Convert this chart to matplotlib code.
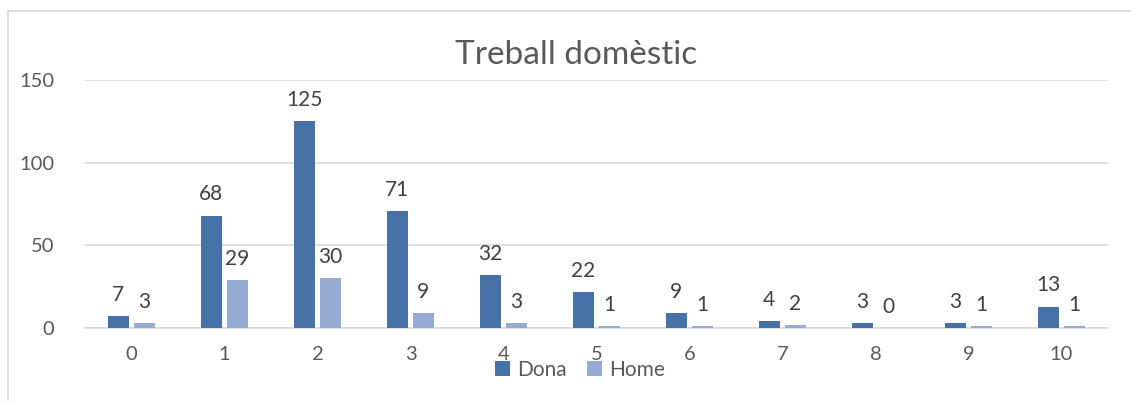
import numpy as np
import matplotlib
matplotlib.use("Agg")
import matplotlib.pyplot as plt
from matplotlib.patches import Rectangle

# Дані
categories = ["0", "1", "2", "3", "4", "5", "6", "7", "8", "9", "10"]
dona = [7, 68, 125, 71, 32, 22, 9, 4, 3, 3, 13]
home = [3, 29, 30, 9, 3, 1, 1, 2, 0, 1, 1]

col_dona = "#4672A8"
col_home = "#95ABD2"
txt = "#595959"

plt.rcParams["font.family"] = ["Lato", "DejaVu Sans"]

fig = plt.figure(figsize=(11.31, 4.01), dpi=100)
ax = fig.add_axes([85 / 1131, 1 - 328 / 401, 1023 / 1131, 248 / 401])

x = np.arange(len(categories))
w = 0.226
b1 = ax.bar(x - 0.145, dona, w, color=col_dona, zorder=3)
b2 = ax.bar(x + 0.135, home, w, color=col_home, zorder=3)

for bars, vals in ((b1, dona), (b2, home)):
    for r, v in zip(bars, vals):
        ax.annotate(str(v), (r.get_x() + r.get_width() / 2, v), xytext=(0, 8),
                    textcoords="offset points", ha="center", va="bottom",
                    fontsize=15, color="#404040")

ax.set_xlim(-0.5, 10.5)
ax.set_ylim(0, 150)
ax.set_yticks([0, 50, 100, 150])
ax.set_xticks(x)
ax.set_xticklabels(categories)
ax.tick_params(length=0, labelsize=14.5, labelcolor=txt)
ax.tick_params(axis="x", pad=13)
ax.tick_params(axis="y", pad=22)
ax.grid(axis="y", color="#d9d9d9", linewidth=1.2, zorder=0)
for s in ("top", "right", "left"):
    ax.spines[s].set_visible(False)
ax.spines["bottom"].set_color("#d9d9d9")
ax.spines["bottom"].set_linewidth(1.2)

fig.text(0.509, 1 - 55 / 401, "Treball domèstic", ha="center", va="center",
         fontsize=24, color=txt)

leg = fig.legend([b1, b2], ["Dona", "Home"], loc="center", ncol=2,
                 bbox_to_anchor=(580 / 1131, 1 - 370 / 401), frameon=False,
                 fontsize=15, handlelength=0.7, handleheight=0.7,
                 handletextpad=0.35, columnspacing=1.0)
for t in leg.get_texts():
    t.set_color(txt)

# Рамка діаграми
fig.patches.append(Rectangle((8 / 1131, -0.1), 1.2, 1 - 11 / 401 + 0.1,
                             transform=fig.transFigure, fill=False,
                             edgecolor="#d9d9d9", linewidth=1.2))

fig.savefig("out.png", dpi=100)
